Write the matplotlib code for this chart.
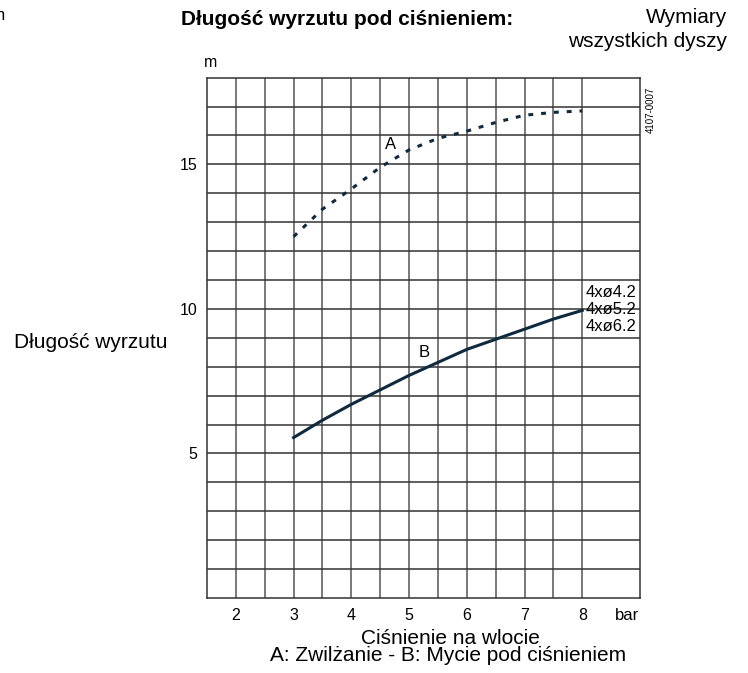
import numpy as np
import matplotlib
matplotlib.use('Agg')
from matplotlib import pyplot as plt

plt.rcParams['font.family'] = ['Liberation Sans', 'DejaVu Sans']

# curve A (dashed) - Zwilzanie
pressure_a = [3.0, 3.5, 4.0, 4.5, 5.0, 5.5, 6.0, 6.5, 7.0, 7.5, 8.0]
length_a = [12.5, 13.45, 14.15, 14.9, 15.5, 15.9, 16.15, 16.45, 16.7, 16.8, 16.85]

# curve B (solid) - Mycie pod cisnieniem
pressure_b = [3.0, 3.5, 4.0, 4.5, 5.0, 5.5, 6.0, 6.5, 7.0, 7.5, 8.0]
length_b = [5.55, 6.15, 6.7, 7.2, 7.7, 8.15, 8.6, 8.95, 9.3, 9.65, 9.95]

x_ticks = [2, 3, 4, 5, 6, 7, 8]
y_ticks = [5, 10, 15]
nozzles = ['4xø4.2', '4xø5.2', '4xø6.2']

line_color = '#0f2a3d'

fig = plt.figure(figsize=(7.48, 6.73), dpi=100)
ax = fig.add_axes([0.2767, 0.1114, 0.5789, 0.7732])
ax.set_xlim(1.5, 9)
ax.set_ylim(0, 18)

# grid lines every 0.5 bar (none at 8.5) and every 1 m
for gx in np.arange(2.0, 8.01, 0.5):
    ax.axvline(gx, color='#555555', lw=1.1, zorder=1)
for gy in range(1, 18):
    ax.axhline(gy, color='#333333', lw=1.1, zorder=1)
for s in ax.spines.values():
    s.set_color('#333333')
    s.set_linewidth(1.1)

ax.plot(pressure_a, length_a, color=line_color, lw=2.2, dashes=(1.6, 2.6), zorder=3)
ax.plot(pressure_b, length_b, color=line_color, lw=2.2, zorder=3)

ax.text(4.68, 15.7, 'A', fontsize=12, ha='center', va='center', zorder=4)
ax.text(5.26, 8.5, 'B', fontsize=12, ha='center', va='center', zorder=4)
for i, lab in enumerate(nozzles):
    ax.text(8.05, 10.58 - i * 0.59, lab, fontsize=12, ha='left', va='center', zorder=4)

ax.set_xticks(x_ticks)
ax.set_yticks(y_ticks)
ax.tick_params(length=0, labelsize=11.5, pad=7)
ax.text(8.56, -0.35, 'bar', fontsize=12, ha='left', va='top')
ax.text(1.45, 18.25, 'm', fontsize=11.5, ha='left', va='bottom')
ax.text(9.1, 17.68, '4107-0007', fontsize=7, rotation=90, ha='left', va='top')

fig.text(0.2233, 0.483, 'Długość wyrzutu', fontsize=15, ha='right', va='baseline')
fig.text(0.242, 0.963, 'Długość wyrzutu pod ciśnieniem:', fontsize=15, fontweight='bold',
         ha='left', va='baseline')
fig.text(0.972, 0.966, 'Wymiary', fontsize=15, ha='right', va='baseline')
fig.text(0.972, 0.930, 'wszystkich dyszy', fontsize=15, ha='right', va='baseline')
fig.text(0.6023, 0.0435, 'Ciśnienie na wlocie', fontsize=15, ha='center', va='baseline')
fig.text(0.599, 0.0178, 'A: Zwilżanie - B: Mycie pod ciśnieniem', fontsize=15,
         ha='center', va='baseline')
fig.text(-0.006, 0.97, 'n', fontsize=12, ha='left', va='baseline')

fig.savefig('out.png', dpi=100)
